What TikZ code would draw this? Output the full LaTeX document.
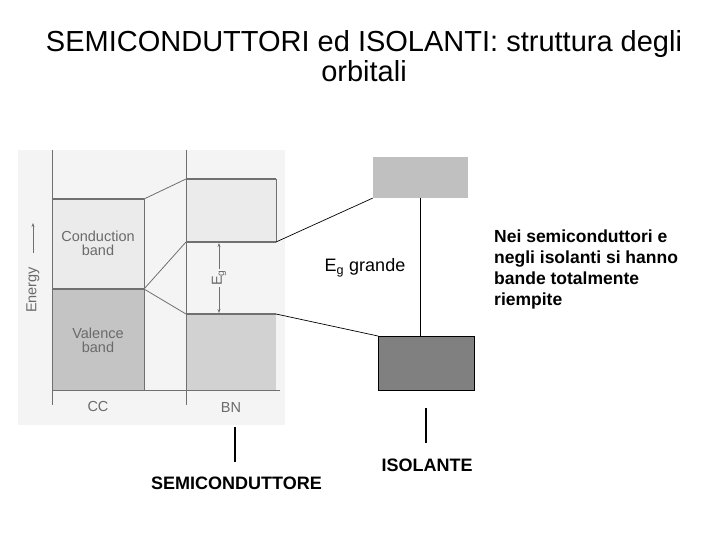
\documentclass[tikz,border=0pt]{standalone}
\usepackage{fontspec}
\setmainfont{Liberation Sans}
\usetikzlibrary{arrows.meta}
\definecolor{scanbg}{HTML}{F4F4F4}
\definecolor{condfill}{HTML}{EBEBEB}
\definecolor{valfill}{HTML}{C4C4C4}
\definecolor{bnval}{HTML}{D2D2D2}
\definecolor{scanline}{HTML}{707070}
\definecolor{scantext}{HTML}{6A6A6A}
\definecolor{lightbox}{HTML}{C0C0C0}
\definecolor{darkbox}{HTML}{808080}
\tikzset{
  scanedge/.style={draw=scanline, line width=1.8pt},
  scanthin/.style={draw=scanline, line width=0.8pt},
  scanlabel/.style={text=scantext, font=\fontsize{14.5}{14}\selectfont, align=center, inner sep=0pt},
  conn/.style={draw=black, line width=0.7pt},
  tick/.style={draw=black, line width=2.6pt},
  lbl/.style={font=\bfseries\fontsize{18}{20}\selectfont, inner sep=0pt},
  titlefont/.style={font=\fontsize{29}{30}\selectfont, inner sep=0pt, anchor=base}
}
\begin{document}
\begin{tikzpicture}[x=1pt,y=-1pt]
\useasboundingbox (0,0) rectangle (720,540);
\fill[white] (0,0) rectangle (720,540);
% title
\node[titlefont] (title1) at (364,52) {SEMICONDUTTORI ed ISOLANTI: struttura degli};
\node[titlefont] (title2) at (364,82) {orbitali};
% scanned figure background
\fill[scanbg] (18,150) rectangle (285,425);
% bands CC
\fill[condfill] (52,199) rectangle (144,289);
\fill[valfill] (52,289) rectangle (144,390);
% bands BN
\fill[condfill] (186,179) rectangle (276,242);
\fill[bnval] (186,314) rectangle (276,390);
% axes
\draw[scanthin] (52,150) -- (52,405);
\draw[scanthin] (186,150) -- (186,405);
\draw[scanthin] (52,390) -- (280,390);
% band edges
\draw[scanedge] (52,199) -- (144,199);
\draw[scanedge] (52,289) -- (144,289);
\draw[scanthin] (144,199) -- (144,390);
\draw[scanedge] (186,179) -- (276,179);
\draw[scanedge] (186,242) -- (276,242);
\draw[scanthin] (276,179) -- (276,242);
\draw[scanedge] (186,314) -- (276,314);
% connecting lines in scan
\coordinate (ccT) at (144,199);
\coordinate (ccM) at (144,289);
\coordinate (bnT) at (186,179);
\coordinate (bnC) at (186,242);
\coordinate (bnV) at (186,314);
\draw[scanthin] (ccT) -- (bnT);
\draw[scanthin] (ccM) -- (bnC);
\draw[scanthin] (ccM) -- (bnV);
% Eg arrow
\coordinate (egT) at (219,243);
\coordinate (egB) at (219,313);
\draw[scanthin, {Stealth[length=4pt,width=3pt]}-{Stealth[length=4pt,width=3pt]}] (egT) -- (egB);
\node[scanlabel, fill=scanbg, rotate=90, inner sep=1pt] (eglab) at (219,278) {E\textsubscript{g}};
% energy axis
\node[scanlabel, rotate=90] (energy) at (33,290) {Energy};
\coordinate (enA) at (33,253);
\coordinate (enB) at (33,223);
\draw[scanthin, -{Stealth[length=4pt,width=3pt]}] (enA) -- (enB);
% scan labels
\node[scanlabel] (cond) at (98,243) {Conduction\\band};
\node[scanlabel] (val) at (98,340) {Valence\\band};
\node[scanlabel] (cc) at (98,407) {CC};
\node[scanlabel] (bn) at (231,408) {BN};
% right boxes
\node[draw=none, fill=lightbox, minimum width=95pt, minimum height=41pt, inner sep=0pt, anchor=north west] (cband) at (372.7,156.7) {};
\node[draw=black, line width=0.8pt, fill=darkbox, minimum width=96pt, minimum height=54pt, inner sep=0pt, anchor=north west] (vband) at (378,336) {};
\coordinate (cbTop) at (420.7,197.7);
\coordinate (vbTop) at (420.7,336);
\draw[conn] (cbTop) -- (vbTop);
\coordinate (bnCR) at (276,242);
\coordinate (bnVR) at (276,314);
\draw[conn] (bnCR) -- (cband.south west);
\draw[conn] (bnVR) -- (vband.north west);
\node[font=\fontsize{18}{20}\selectfont, inner sep=0pt] (eg) at (365,268) {E\textsubscript{g} grande};
% right text
\node[align=left, anchor=north west, inner sep=0pt, font=\bfseries\fontsize{17.5}{21}\selectfont] (note) at (494,230)
  {Nei semiconduttori e\\negli isolanti si hanno\\bande totalmente\\riempite};
% bottom labels
\coordinate (t1a) at (235,427);
\coordinate (t1b) at (235,462);
\draw[tick] (t1a) -- (t1b);
\node[lbl] (semi) at (236.5,483) {SEMICONDUTTORE};
\coordinate (t2a) at (426,408);
\coordinate (t2b) at (426,443);
\draw[tick] (t2a) -- (t2b);
\node[lbl] (iso) at (427,465) {ISOLANTE};
\end{tikzpicture}
\end{document}
